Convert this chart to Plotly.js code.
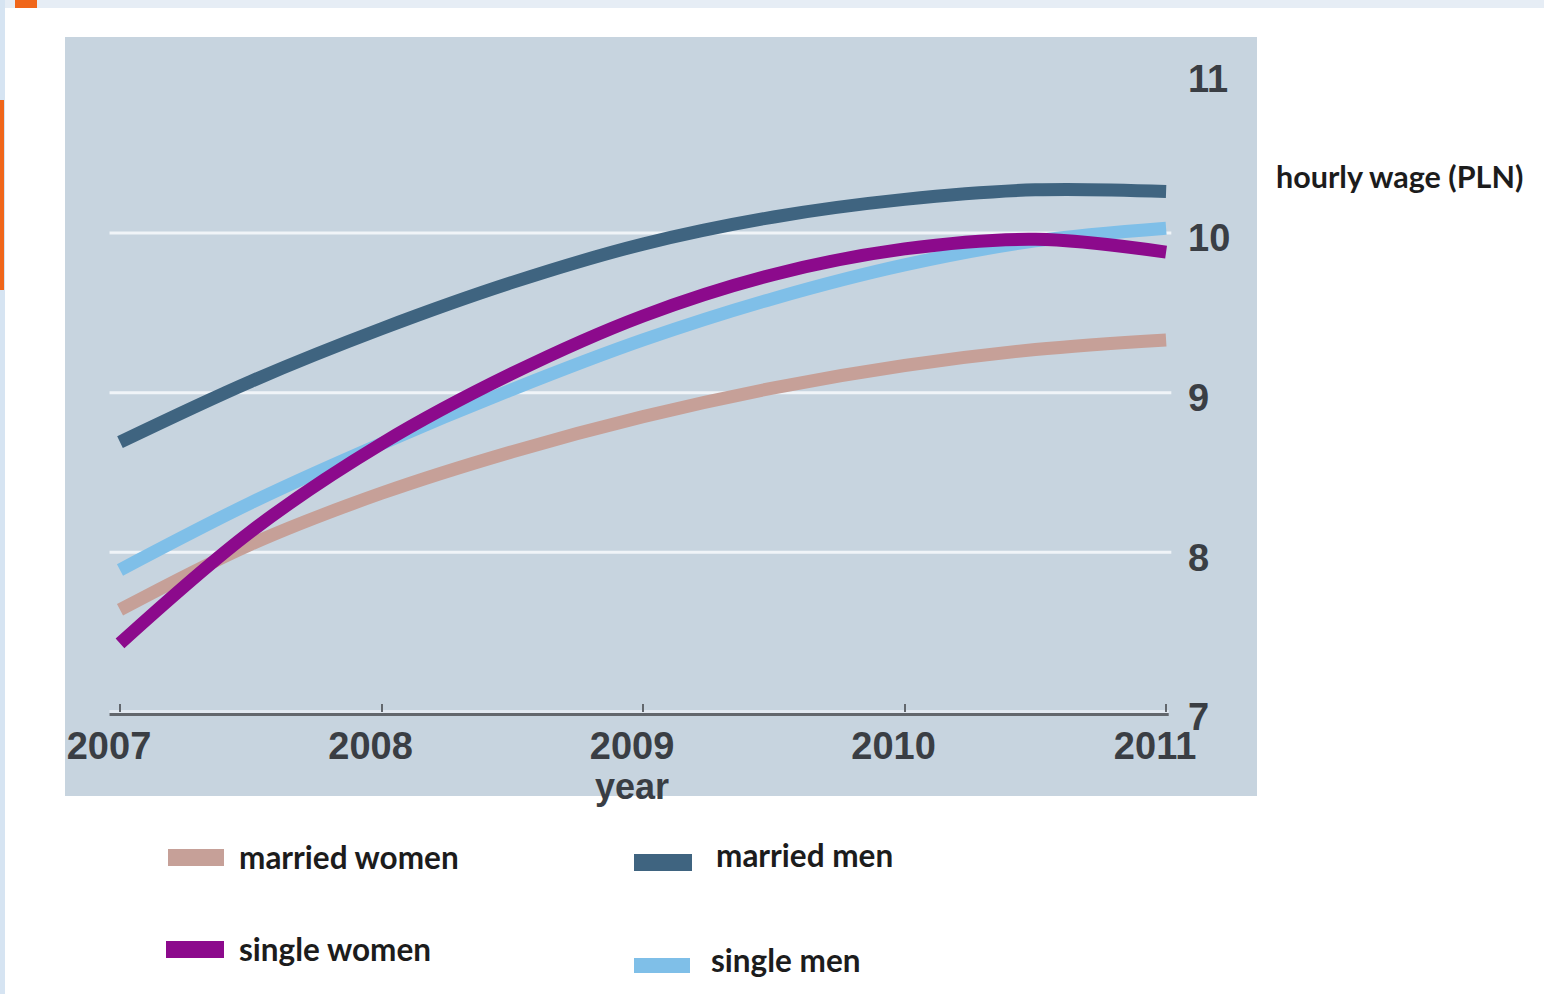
<!DOCTYPE html>
<html>
<head>
<meta charset="utf-8">
<script src="https://cdn.plot.ly/plotly-3.0.1.min.js"></script>
<style>
  html, body { margin: 0; padding: 0; background: #ffffff; }
  #chart { width: 1544px; height: 994px; }
</style>
</head>
<body>
<div id="chart"></div>
<script>
// ---- data ----
const years = [2007, 2007.5, 2008, 2008.5, 2009, 2009.5, 2010, 2010.5, 2011];
const marriedWomen = [7.64, 8.05, 8.37, 8.63, 8.85, 9.03, 9.17, 9.27, 9.33];
const marriedMen   = [8.69, 9.07, 9.40, 9.69, 9.93, 10.10, 10.21, 10.27, 10.26];
const singleWomen  = [7.43, 8.13, 8.68, 9.12, 9.48, 9.74, 9.90, 9.96, 9.88];
const singleMen    = [7.89, 8.31, 8.68, 9.02, 9.33, 9.59, 9.80, 9.95, 10.03];
const seriesNames  = ['married women', 'married men', 'single women', 'single men'];
const tickYears    = [2007, 2008, 2009, 2010, 2011];
const tickYearText = ['2007', '2008', '2009', '2010', '2011'];
const wageTicks    = [7, 8, 9, 10, 11];
const gridValues   = [8, 9, 10];
const xTitle = 'year';
const yTitle = 'hourly wage (PLN)';

// ---- styling ----
const colors = {
  'married women': '#c6a098',
  'married men':   '#3f6480',
  'single women':  '#8c0a8c',
  'single men':    '#7fbfe8'
};
const seriesData = {
  'married women': marriedWomen,
  'married men': marriedMen,
  'single women': singleWomen,
  'single men': singleMen
};
const drawOrder = ['married women', 'single men', 'married men', 'single women'];

const W = 1544, H = 994;
const PL = 65, PR = 1257, PT = 37, PB = 796;
const px = x => (x - PL) / (PR - PL);
const py = y => (PB - y) / (PB - PT);

const traces = drawOrder.map(name => ({
  type: 'scatter',
  mode: 'lines',
  name: name,
  x: years,
  y: seriesData[name],
  line: { color: colors[name], width: 13, shape: 'spline', smoothing: 1 },
  hoverinfo: 'skip',
  showlegend: false
}));

const shapes = [];
// page decorations
shapes.push({ type: 'rect', xref: 'paper', yref: 'paper', x0: px(0), x1: px(W), y0: py(0), y1: py(8), fillcolor: '#e6edf5', line: { width: 0 }, layer: 'below' });
shapes.push({ type: 'rect', xref: 'paper', yref: 'paper', x0: px(0), x1: px(5), y0: py(0), y1: py(H), fillcolor: '#d6e4f2', line: { width: 0 }, layer: 'below' });
shapes.push({ type: 'rect', xref: 'paper', yref: 'paper', x0: px(15), x1: px(37), y0: py(0), y1: py(8), fillcolor: '#f0661a', line: { width: 0 }, layer: 'below' });
shapes.push({ type: 'rect', xref: 'paper', yref: 'paper', x0: px(0), x1: px(4), y0: py(100), y1: py(290), fillcolor: '#f0661a', line: { width: 0 }, layer: 'below' });

// white gridlines (do not span full plot width)
gridValues.forEach(v => {
  shapes.push({ type: 'line', xref: 'x', yref: 'y', x0: 2006.96, x1: 2011.02, y0: v, y1: v,
    line: { color: '#f0f4f8', width: 3 }, layer: 'below' });
});
// axis line at 7: light band above, dark band below
shapes.push({ type: 'rect', xref: 'x', yref: 'y', x0: 2006.96, x1: 2011.01, yanchor: 7, ysizemode: 'pixel', y0: -1, y1: 2,
  fillcolor: '#e2e9f1', line: { width: 0 }, layer: 'below' });
shapes.push({ type: 'rect', xref: 'x', yref: 'y', x0: 2006.96, x1: 2011.01, yanchor: 7, ysizemode: 'pixel', y0: -4, y1: -1,
  fillcolor: '#62676d', line: { width: 0 }, layer: 'below' });

// manual legend
const legendItems = [
  { name: seriesNames[0], sx0: 168, sx1: 224, sy0: 849, sy1: 866, tx: 237, ty: 857 },
  { name: seriesNames[1], sx0: 634, sx1: 692, sy0: 854, sy1: 871, tx: 714, ty: 855 },
  { name: seriesNames[2], sx0: 166, sx1: 224, sy0: 941, sy1: 958, tx: 237, ty: 949 },
  { name: seriesNames[3], sx0: 634, sx1: 690, sy0: 958, sy1: 973, tx: 709, ty: 960 }
];
const textFont = { family: 'Lato, sans-serif', size: 31.5, weight: 700, color: '#1c1c1c' };
const annotations = [];
legendItems.forEach(it => {
  shapes.push({ type: 'rect', xref: 'paper', yref: 'paper', x0: px(it.sx0), x1: px(it.sx1), y0: py(it.sy1), y1: py(it.sy0),
    fillcolor: colors[it.name], line: { width: 0 } });
  annotations.push({ xref: 'paper', yref: 'paper', x: px(it.tx), y: py(it.ty), xanchor: 'left', yanchor: 'middle',
    text: it.name, showarrow: false, font: textFont });
});

annotations.push({ xref: 'paper', yref: 'paper', x: px(1274), y: py(176), xanchor: 'left', yanchor: 'middle',
  text: yTitle, showarrow: false, font: { family: 'Lato, sans-serif', size: 30.5, weight: 700, color: '#1c1c1c' } });
annotations.push({ xref: 'paper', yref: 'paper', x: px(632), y: py(786), xanchor: 'center', yanchor: 'middle',
  text: xTitle, showarrow: false, font: { family: 'Liberation Sans, Arial, sans-serif', size: 36, weight: 700, color: '#3a3e44' } });

const axisFont = { family: 'Liberation Sans, Arial, sans-serif', size: 38, weight: 700, color: '#3a3e44' };

const layout = {
  width: W, height: H,
  margin: { l: PL, r: W - PR, t: PT, b: H - PB, pad: 0 },
  paper_bgcolor: '#ffffff',
  plot_bgcolor: '#c7d4df',
  showlegend: false,
  xaxis: {
    range: [2006.7897, 2011.3476],
    anchor: 'free', position: py(712),
    tickvals: tickYears, ticktext: tickYearText,
    ticks: 'inside', ticklen: 8, tickwidth: 2, tickcolor: '#62676d',
    ticklabelshift: -11, ticklabelstandoff: 8,
    showline: false, showgrid: false, zeroline: false,
    tickfont: axisFont,
    fixedrange: true
  },
  yaxis: {
    range: [6.474, 11.227],
    side: 'right', anchor: 'free', position: px(1187),
    tickvals: wageTicks, ticktext: wageTicks.map(String),
    ticks: '', showline: false, showgrid: false, zeroline: false,
    ticklabelshift: 5,
    tickfont: axisFont,
    fixedrange: true
  },
  shapes: shapes,
  annotations: annotations
};

Plotly.newPlot('chart', traces, layout, { displayModeBar: false, staticPlot: true });
</script>
</body>
</html>
